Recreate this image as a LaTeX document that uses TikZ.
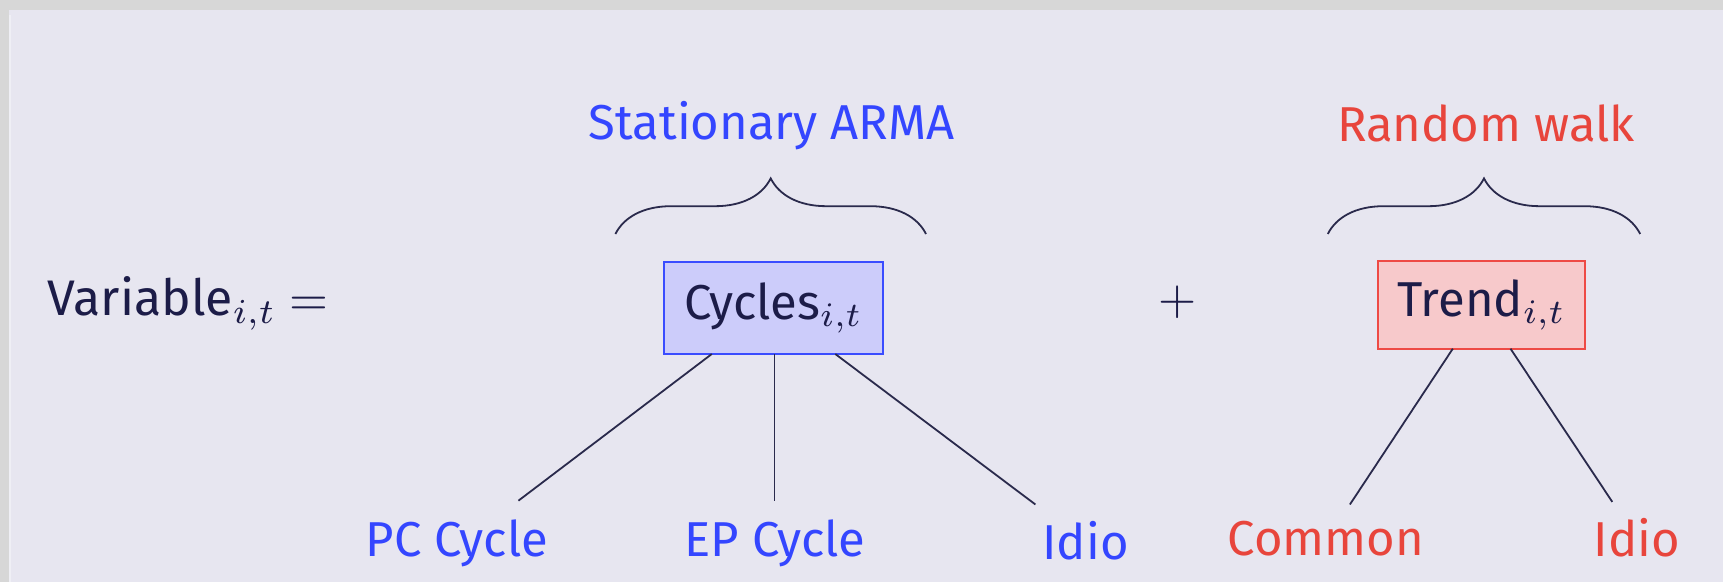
\documentclass[tikz,border=0pt]{standalone}
\usepackage{fontspec}
\setmainfont{Fira Sans}
\usetikzlibrary{decorations.pathreplacing,calc}
\definecolor{bgout}{HTML}{D7D7D7}
\definecolor{bgin}{HTML}{E7E6F0}
\definecolor{bgstrip}{HTML}{EFEFF5}
\definecolor{navy}{HTML}{1C1C48}
\definecolor{linec}{HTML}{2A2A4C}
\definecolor{myblue}{HTML}{3446FF}
\definecolor{myred}{HTML}{E8453C}
\definecolor{bluefill}{HTML}{CCCCFA}
\definecolor{blueedge}{HTML}{3A4CFF}
\definecolor{redfill}{HTML}{F7C9CB}
\definecolor{rededge}{HTML}{EE4A45}
\newcommand{\bigtxt}[2]{\scalebox{#1}{\fontsize{10}{12}\selectfont #2}}
\begin{document}
\begin{tikzpicture}[x=0.5pt,y=-0.5pt,
  lbl/.style={inner sep=0pt, anchor=base},
  bluelbl/.style={lbl, text=myblue},
  redlbl/.style={lbl, text=myred},
  conn/.style={draw=linec, line width=0.9pt},
  bracestyle/.style={draw=linec, line width=0.9pt, decorate,
     decoration={brace, amplitude=27.8pt}},
  cycbox/.style={draw=blueedge, fill=bluefill, line width=0.85pt, text=navy,
     minimum width=109.5pt, minimum height=46pt, inner sep=0pt},
  trendbox/.style={draw=rededge, fill=redfill, line width=0.85pt, text=navy,
     minimum width=103.6pt, minimum height=43.7pt, inner sep=0pt}
]
\useasboundingbox (0,0) rectangle (1723,582);
\fill[bgout] (0,0) rectangle (1723,582);
\fill[bgin] (9,10) rectangle (1723,582);
\fill[bgstrip] (9,15) rectangle (11,582);

% left side
\node[lbl, text=navy, anchor=base west] (var) at (47.5,316) {\bigtxt{2.5}{Variable$_{i,t}$ $=$}};

% cycles part
\node[bluelbl] (arma) at (771.7,140) {\bigtxt{2.45}{Stationary ARMA}};
\coordinate (b1l) at (615.4,234);
\coordinate (b1r) at (926,234);
\draw[bracestyle] (b1l) -- (b1r);
\node[cycbox] (cyc) at (773.5,307.9) {\bigtxt{2.45}{Cycles$_{i,t}$}};

\node[bluelbl] (pc) at (457,556) {\bigtxt{2.45}{PC Cycle}};
\node[bluelbl] (ep) at (775,556) {\bigtxt{2.45}{EP Cycle}};
\node[bluelbl] (idb) at (1085.6,559.5) {\bigtxt{2.45}{Idio}};

\coordinate (c1s) at (711.8,354);
\coordinate (c2s) at (774.4,354);
\coordinate (c3s) at (835.3,354);
\coordinate (c1e) at (518.4,500.7);
\coordinate (c2e) at (774.4,500.7);
\coordinate (c3e) at (1035.4,504.5);
\draw[conn] (c1s) -- (c1e);
\draw[conn] (c2s) -- (c2e);
\draw[conn] (c3s) -- (c3e);

% plus
\node[lbl, text=navy, anchor=center] (plus) at (1177.7,302.6) {\bigtxt{2.45}{$+$}};

% trend part
\node[redlbl] (rw) at (1485.8,142) {\bigtxt{2.45}{Random walk}};
\coordinate (b2l) at (1327.8,234);
\coordinate (b2r) at (1640.2,234);
\draw[bracestyle] (b2l) -- (b2r);
\node[trendbox] (trend) at (1481.4,305) {\bigtxt{2.45}{Trend$_{i,t}$}};

\node[redlbl] (com) at (1326,555) {\bigtxt{2.45}{Common}};
\node[redlbl] (idr) at (1637,556.5) {\bigtxt{2.45}{Idio}};

\coordinate (t1s) at (1452.8,348.7);
\coordinate (t2s) at (1510.5,348.7);
\coordinate (t1e) at (1349.9,504.5);
\coordinate (t2e) at (1612.3,501.9);
\draw[conn] (t1s) -- (t1e);
\draw[conn] (t2s) -- (t2e);
\end{tikzpicture}
\end{document}
